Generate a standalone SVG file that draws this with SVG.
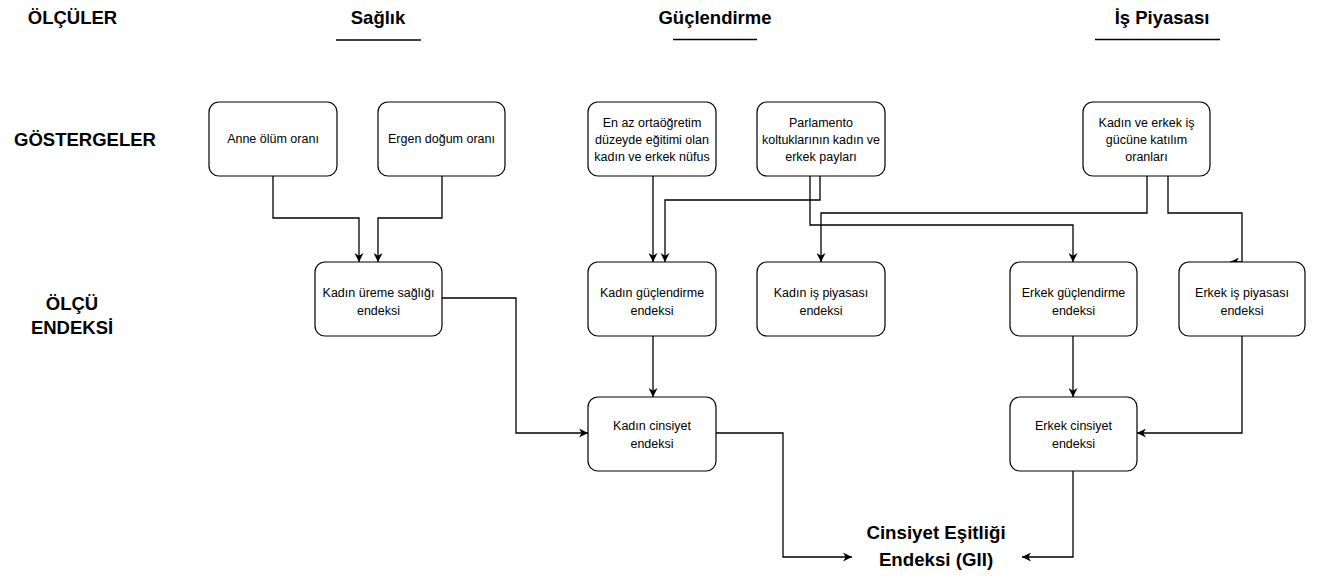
<svg xmlns="http://www.w3.org/2000/svg" width="1322" height="579" viewBox="0 0 1322 579">
<style>
.bg{fill:#ffffff}
.box{fill:#ffffff;stroke:#000000;stroke-width:1.2}
.t{font-family:"Liberation Sans",Arial,Helvetica,sans-serif;font-size:12.5px;fill:#000000;text-anchor:middle}
.h{font-family:"Liberation Sans",Arial,Helvetica,sans-serif;font-size:18.5px;font-weight:bold;fill:#000000;text-anchor:middle}
.ul{stroke:#000000;stroke-width:1.3}
.c{fill:none;stroke:#000000;stroke-width:1.3;marker-end:url(#arr)}
</style>
<defs>
<marker id="arr" viewBox="0 0 10 10" refX="10" refY="5" markerWidth="9" markerHeight="9" markerUnits="userSpaceOnUse" orient="auto">
<path d="M0,0 L10,5 L0,10 L3,5 z" fill="#000000"/>
</marker>
</defs>
<rect class="bg" x="0" y="0" width="1322" height="579"/>

<g id="labels">
<text class="h" x="72.5" y="24">ÖLÇÜLER</text>
<text class="h" x="85" y="146">GÖSTERGELER</text>
<text class="h" x="72" y="310">ÖLÇÜ</text>
<text class="h" x="72" y="334">ENDEKSİ</text>
<text class="h" x="378" y="24">Sağlık</text>
<line class="ul" x1="336" y1="40" x2="421" y2="40"/>
<text class="h" x="715" y="24">Güçlendirme</text>
<line class="ul" x1="673" y1="39.5" x2="757" y2="39.5"/>
<text class="h" x="1162" y="24">İş Piyasası</text>
<line class="ul" x1="1095" y1="39.5" x2="1220" y2="39.5"/>
</g>

<g id="connectors">
<path class="c" d="M273,176 V218 H359 V262"/>
<path class="c" d="M442,176 V218 H378 V262"/>
<path class="c" d="M653,176 V262"/>
<path class="c" d="M820,176 V200 H665 V262"/>
<path class="c" d="M810,176 V225 H1073 V262"/>
<path class="c" d="M1147,176 V213 H821 V262"/>
<path class="c" d="M1168,176 V213 H1242 V262 H1230"/>
<path class="c" d="M442,298 H516 V433 H588"/>
<path class="c" d="M653,336 V397"/>
<path class="c" d="M716,433 H783 V557 H852"/>
<path class="c" d="M1073,336 V397"/>
<path class="c" d="M1242,336 V433 H1137"/>
<path class="c" d="M1073,471 V557 H1022"/>
</g>

<g id="n-anne">
<rect class="box" x="209" y="102" width="128" height="74" rx="10"/>
<text class="t" x="273" y="143">Anne ölüm oranı</text>
</g>
<g id="n-ergen">
<rect class="box" x="378" y="102" width="127" height="74" rx="10"/>
<text class="t" x="441.5" y="143">Ergen doğum oranı</text>
</g>
<g id="n-egitim">
<rect class="box" x="588" y="102" width="128" height="74" rx="10"/>
<text class="t" x="652" y="127">En az ortaöğretim</text>
<text class="t" x="652" y="144">düzeyde eğitimi olan</text>
<text class="t" x="652" y="161">kadın ve erkek nüfus</text>
</g>
<g id="n-parlamento">
<rect class="box" x="757" y="102" width="128" height="74" rx="10"/>
<text class="t" x="821" y="127">Parlamento</text>
<text class="t" x="821" y="144">koltuklarının kadın ve</text>
<text class="t" x="821" y="161">erkek payları</text>
</g>
<g id="n-isgucu">
<rect class="box" x="1083" y="102" width="127" height="74" rx="10"/>
<text class="t" x="1146.5" y="127">Kadın ve erkek iş</text>
<text class="t" x="1146.5" y="144">gücüne katılım</text>
<text class="t" x="1146.5" y="161">oranları</text>
</g>

<g id="n-kadin-ureme">
<rect class="box" x="315" y="262" width="127" height="74" rx="10"/>
<text class="t" x="378.5" y="297">Kadın üreme sağlığı</text>
<text class="t" x="378.5" y="315">endeksi</text>
</g>
<g id="n-kadin-guc">
<rect class="box" x="588" y="262" width="128" height="74" rx="10"/>
<text class="t" x="652" y="297">Kadın güçlendirme</text>
<text class="t" x="652" y="315">endeksi</text>
</g>
<g id="n-kadin-is">
<rect class="box" x="757" y="262" width="128" height="74" rx="10"/>
<text class="t" x="821" y="297">Kadın iş piyasası</text>
<text class="t" x="821" y="315">endeksi</text>
</g>
<g id="n-erkek-guc">
<rect class="box" x="1010" y="262" width="127" height="74" rx="10"/>
<text class="t" x="1073.5" y="297">Erkek güçlendirme</text>
<text class="t" x="1073.5" y="315">endeksi</text>
</g>
<g id="n-erkek-is">
<rect class="box" x="1179" y="262" width="126" height="74" rx="10"/>
<text class="t" x="1242" y="297">Erkek iş piyasası</text>
<text class="t" x="1242" y="315">endeksi</text>
</g>

<g id="n-kadin-cins">
<rect class="box" x="588" y="397" width="128" height="74" rx="10"/>
<text class="t" x="652" y="430">Kadın cinsiyet</text>
<text class="t" x="652" y="448">endeksi</text>
</g>
<g id="n-erkek-cins">
<rect class="box" x="1010" y="397" width="127" height="74" rx="10"/>
<text class="t" x="1073.5" y="430">Erkek cinsiyet</text>
<text class="t" x="1073.5" y="448">endeksi</text>
</g>

<g id="n-gii">
<text class="h" x="936" y="539" style="font-size:18.7px">Cinsiyet Eşitliği</text>
<text class="h" x="936" y="566" style="font-size:18.7px">Endeksi (GII)</text>
</g>
</svg>
